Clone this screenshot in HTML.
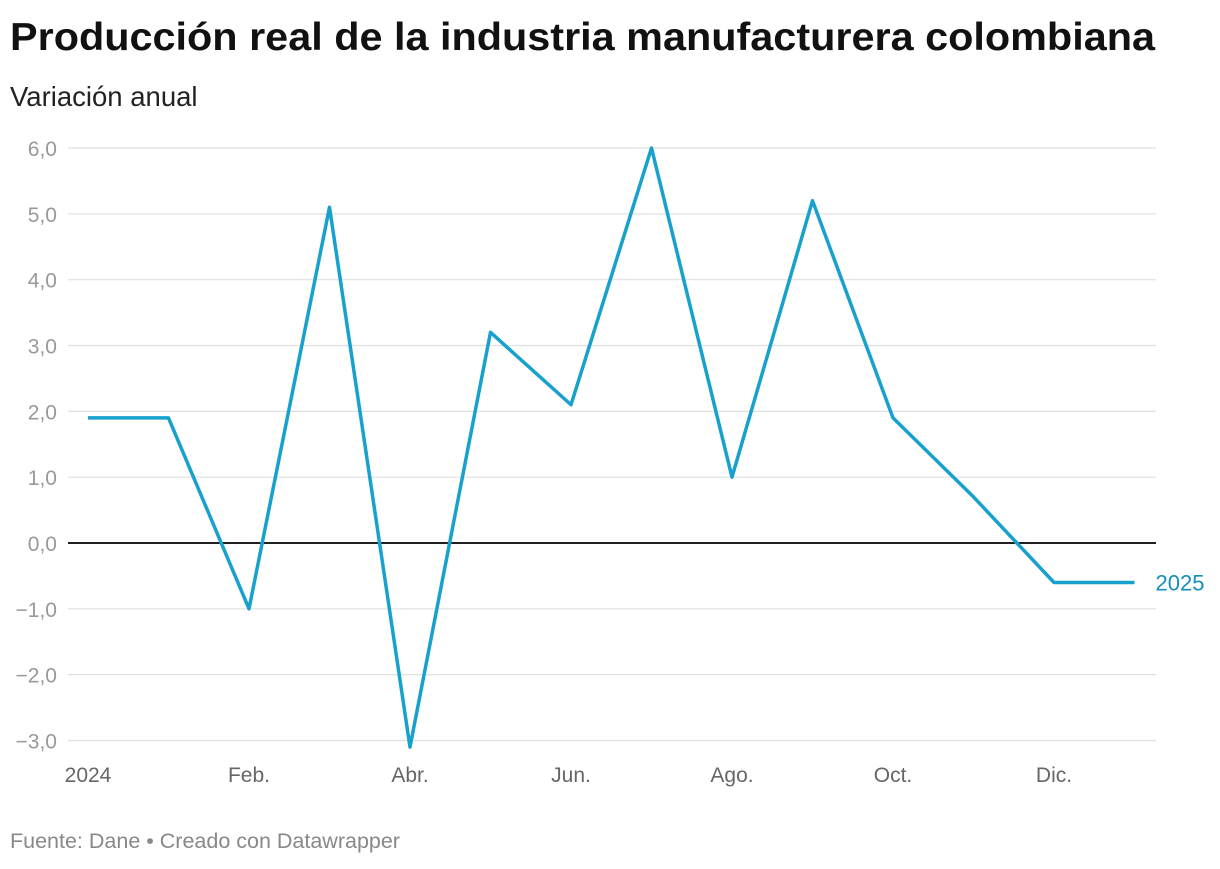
<!DOCTYPE html>
<html><head><meta charset="utf-8"><style>
body{margin:0;width:1220px;height:864px;background:#fff;font-family:"Liberation Sans",sans-serif;overflow:hidden}
svg text{font-family:"Liberation Sans",sans-serif}
</style></head><body>
<svg width="1220" height="864">
<text x="10" y="50" font-size="39" font-weight="bold" fill="#111" textLength="1145" lengthAdjust="spacingAndGlyphs">Producción real de la industria manufacturera colombiana</text>
<text x="10" y="106" font-size="27.5" fill="#222">Variación anual</text>
<g id="grid"></g><g id="xt"></g>
<path id="line" fill="none" stroke="#18a1cd" stroke-width="3.5" stroke-linejoin="round"/>
<text id="endlab" font-size="22" fill="#168fba">2025</text>
<text x="10" y="848" font-size="21.5" fill="#888">Fuente: Dane • Creado con Datawrapper</text>
</svg>
<script>
const values=[1.9,1.9,-1.0,5.1,-3.1,3.2,2.1,6.0,1.0,5.2,1.9,0.7,-0.6,-0.6];
const yTicks=[6,5,4,3,2,1,0,-1,-2,-3];
const xTickIdx=[0,2,4,6,8,10,12];
const xTickLabels=["2024","Feb.","Abr.","Jun.","Ago.","Oct.","Dic."];
const y=v=>543-v*65.83;
const x=i=>88+i*80.5;
const ns="http://www.w3.org/2000/svg";
const g=document.getElementById('grid');
yTicks.forEach(t=>{
 const l=document.createElementNS(ns,'line');
 
 
 l.setAttribute('x1',68);l.setAttribute('x2',1156);l.setAttribute('y1',y(t));l.setAttribute('y2',y(t));
 l.setAttribute('stroke',t===0?'#000':'#e0e0e0');l.setAttribute('stroke-width',t===0?1.8:1.2);
 g.appendChild(l);
 const tx=document.createElementNS(ns,'text');
 
 
 tx.setAttribute('x',57);tx.setAttribute('y',y(t)+8);tx.setAttribute('text-anchor','end');
 tx.setAttribute('font-size','21');tx.setAttribute('fill','#999');
 tx.textContent=(t<0?'\u2212':'')+Math.abs(t).toFixed(1).replace('.',',');
 g.appendChild(tx);
});
const xt=document.getElementById('xt');
xTickIdx.forEach((i,k)=>{
 const tx=document.createElementNS(ns,'text');
 
 
 tx.setAttribute('x',x(i));tx.setAttribute('y',782);tx.setAttribute('text-anchor','middle');
 tx.setAttribute('font-size','21');tx.setAttribute('fill','#666');
 tx.textContent=xTickLabels[k];xt.appendChild(tx);
});
document.getElementById('line').setAttribute('d',values.map((v,i)=>(i?'L':'M')+x(i)+','+y(v)).join(''));
const e=document.getElementById('endlab');
e.setAttribute('x',x(values.length-1)+21);e.setAttribute('y',y(values[values.length-1])+8);
</script>
</body></html>
